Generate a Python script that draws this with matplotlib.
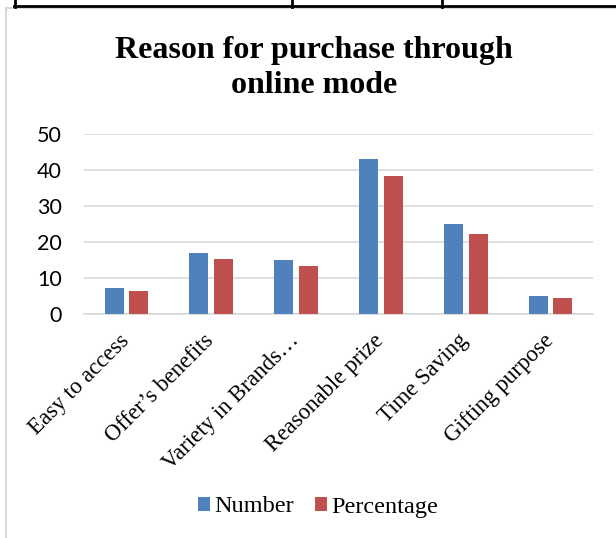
import matplotlib
matplotlib.use("Agg")
import matplotlib.pyplot as plt
from matplotlib.lines import Line2D
from matplotlib.patches import Patch
import matplotlib.transforms as mtransforms
import numpy as np

categories = ["Easy to access", "Offer\u2019s benefits", "Variety in Brands\u2026",
              "Reasonable prize", "Time Saving", "Gifting purpose"]
number = [7, 17, 15, 43, 25, 5]
percentage = [6.25, 15.18, 13.39, 38.39, 22.32, 4.46]
yticks = [0, 10, 20, 30, 40, 50]
series_names = ["Number", "Percentage"]

W, H = 616, 538
fig = plt.figure(figsize=(W / 100, H / 100), dpi=100)
fig.patch.set_facecolor("white")

def fx(px):
    return px / W

def fy(py):
    return 1 - py / H

ax = fig.add_axes([fx(84), fy(313.5), fx(593) - fx(84), fy(134.3) - fy(313.5)])

x = np.arange(len(categories))
bw = 0.225
off = 0.145
blue = "#4F81BD"
red = "#C0504D"
ax.bar(x - off, number, width=bw, color=blue, zorder=3)
ax.bar(x + off, percentage, width=bw, color=red, zorder=3)

ax.set_xlim(-0.5, len(categories) - 0.5)
ax.set_ylim(0, 50)
ax.set_yticks(yticks)
ax.set_yticklabels([str(v) for v in yticks], fontfamily="Lato", fontsize=15.5)
ax.set_xticks(x)
ax.set_xticklabels(categories, rotation=45, ha="right", rotation_mode="default",
                   fontfamily="Liberation Serif", fontsize=16.5)
ax.tick_params(axis="both", length=0)
ax.tick_params(axis="y", pad=16)
ax.tick_params(axis="x", pad=12)
shift = mtransforms.ScaledTranslation(7 / 100, 0, fig.dpi_scale_trans)
for lab in ax.get_xticklabels():
    lab.set_transform(lab.get_transform() + shift)
ax.grid(axis="y", color="#d9d9d9", linewidth=1.2, zorder=0)
for s in ["top", "left", "right"]:
    ax.spines[s].set_visible(False)
ax.spines["bottom"].set_color("#d9d9d9")
ax.spines["bottom"].set_linewidth(1.2)
ax.set_facecolor("none")

fig.text(fx(314), fy(68), "Reason for purchase through\nonline mode", ha="center", va="center",
         fontfamily="Liberation Serif", fontweight="bold", fontsize=23, linespacing=1.3)

handles = [Patch(facecolor=blue, edgecolor="none"), Patch(facecolor=red, edgecolor="none")]
fig.legend(handles, series_names, loc="center", bbox_to_anchor=(fx(318), fy(507)), ncol=2,
           frameon=False, prop={"family": "Liberation Serif", "size": 17.5},
           handlelength=0.5, handleheight=0.5, handletextpad=0.15, columnspacing=0.9)

# chart border (light gray)
fig.add_artist(Line2D([fx(6), fx(6)], [fy(7.5), fy(538)], transform=fig.transFigure,
                      color="#d9d9d9", linewidth=1.5))
fig.add_artist(Line2D([fx(6), fx(616)], [fy(7.5), fy(7.5)], transform=fig.transFigure,
                      color="#d9d9d9", linewidth=1.5))
# table border (black) at top
fig.add_artist(Line2D([fx(13.5), fx(616)], [fy(5.5), fy(5.5)], transform=fig.transFigure,
                      color="black", linewidth=2))
for px in [15, 292, 442]:
    fig.add_artist(Line2D([fx(px), fx(px)], [fy(0), fy(6.5)], transform=fig.transFigure,
                          color="black", linewidth=2))

fig.savefig("out.png", dpi=100, facecolor="white")
